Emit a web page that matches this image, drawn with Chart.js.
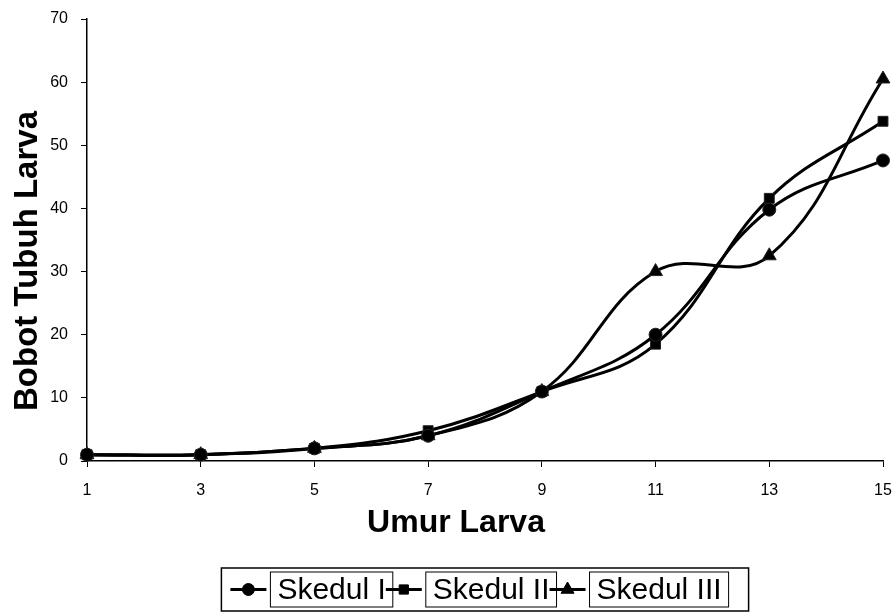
<!DOCTYPE html>
<html>
<head>
<meta charset="utf-8">
<script src="https://cdn.jsdelivr.net/npm/chart.js@4.4.0/dist/chart.umd.min.js"></script>
<style>
  html, body { margin: 0; padding: 0; background: #fff; }
  #wrap { width: 893px; height: 614px; }
</style>
</head>
<body>
<div id="wrap"><canvas id="chart" width="893" height="614"></canvas></div>
<script>
// data
const umurLarva = ['1', '3', '5', '7', '9', '11', '13', '15'];
const skedul1 = [1, 1, 2, 4, 11, 20, 39.8, 47.6];
const skedul2 = [1, 1, 2, 4.8, 11, 18.5, 41.6, 53.8];
const skedul3 = [1, 1, 2, 4, 11, 30, 32.5, 60.5];
const seriesNames = ['Skedul I', 'Skedul II', 'Skedul III'];
const xTitle = 'Umur Larva';
const yTitle = 'Bobot Tubuh Larva';
const yMax = 70;
const yStep = 10;

const FONT = 'Arial, "Liberation Sans", Helvetica, sans-serif';

// axis titles are drawn by hand so they can sit where Excel put them
const axisTitles = {
    id: 'axisTitles',
    afterDraw(chart) {
        const ctx = chart.ctx;
        ctx.save();
        ctx.fillStyle = '#000';
        ctx.font = 'bold 32px ' + FONT;
        ctx.textAlign = 'center';
        ctx.textBaseline = 'alphabetic';
        ctx.fillText(xTitle, 456, 532);

        ctx.translate(37, 261);
        ctx.rotate(-Math.PI / 2);
        ctx.font = 'bold 33px ' + FONT;
        ctx.fillText(yTitle, 0, 0);
        ctx.restore();
    }
};

// legend: line sample with marker, then the label inside its own box
const boxedLegend = {
    id: 'boxedLegend',
    afterDraw(chart) {
        const ctx = chart.ctx;
        const area = chart.chartArea;
        const sample = 36, gap = 4, textPad = 7, overlap = 7;
        const top = 568, height = 43;
        const midY = top + height / 2;

        ctx.save();
        ctx.font = '30px ' + FONT;
        const items = chart.data.datasets.map(ds => ({ ds, w: ctx.measureText(ds.label).width }));
        let inner = 0;
        items.forEach((it, i) => {
            inner += sample + gap + it.w + textPad * 2 - (i < items.length - 1 ? overlap : 0);
        });
        const total = inner + 9 + 20;
        const left = (area.left + area.right) / 2 - total / 2;

        ctx.strokeStyle = '#000';
        ctx.lineWidth = 1.5;
        ctx.strokeRect(left, top, total, height);

        let x = left + 9;
        items.forEach(it => {
            const ds = it.ds;
            ctx.strokeStyle = '#000';
            ctx.lineWidth = 3;
            ctx.beginPath();
            ctx.moveTo(x, midY);
            ctx.lineTo(x + sample, midY);
            ctx.stroke();
            ctx.fillStyle = '#000';
            ctx.lineWidth = 1;
            Chart.helpers.drawPoint(ctx, {
                pointStyle: ds.pointStyle,
                radius: ds.pointRadius - 0.5,
                rotation: 0,
                borderWidth: 1
            }, x + sample / 2, midY);
            x += sample + gap;

            const bw = it.w + textPad * 2;
            ctx.lineWidth = 1;
            ctx.strokeRect(x, top + 4, bw, height - 8);
            ctx.textBaseline = 'middle';
            ctx.textAlign = 'left';
            ctx.fillText(ds.label, x + textPad, midY + 1);
            x += bw - overlap;
        });
        ctx.restore();
    }
};

function makeSet(label, data, style, radius) {
    return {
        label: label,
        data: data,
        borderColor: '#000',
        backgroundColor: '#000',
        borderWidth: 3,
        pointStyle: style,
        pointRadius: radius,
        pointBorderWidth: 1,
        pointBackgroundColor: '#000',
        pointBorderColor: '#222',
        tension: 0.4,
        clip: false
    };
}

new Chart(document.getElementById('chart'), {
    type: 'line',
    data: {
        labels: umurLarva,
        datasets: [
            makeSet(seriesNames[0], skedul1, 'circle', 6.5),
            makeSet(seriesNames[1], skedul2, 'rect', 7),
            makeSet(seriesNames[2], skedul3, 'triangle', 8)
        ]
    },
    options: {
        responsive: false,
        animation: false,
        devicePixelRatio: 1,
        layout: { padding: { top: 19, right: 10, bottom: 113, left: 0 } },
        plugins: {
            legend: { display: false },
            tooltip: { enabled: false }
        },
        scales: {
            x: {
                type: 'category',
                offset: false,
                afterFit: s => {
                    s.height = 40;
                    s.paddingLeft = 0;
                    s.paddingRight = 0;
                },
                border: { color: '#000', width: 1.5 },
                grid: { drawOnChartArea: false, drawTicks: true, tickLength: 6, color: '#000' },
                ticks: { color: '#000', padding: 14, font: { family: FONT, size: 16 }, maxRotation: 0 }
            },
            y: {
                min: 0,
                max: yMax,
                afterFit: s => {
                    s.width = 87;
                    s.paddingTop = 0;
                    s.paddingBottom = 0;
                },
                border: { color: '#000', width: 1.5 },
                grid: { drawOnChartArea: false, drawTicks: true, tickLength: 6, color: '#000' },
                ticks: { stepSize: yStep, color: '#000', padding: 13, font: { family: FONT, size: 16 } }
            }
        }
    },
    plugins: [axisTitles, boxedLegend]
});
</script>
</body>
</html>
